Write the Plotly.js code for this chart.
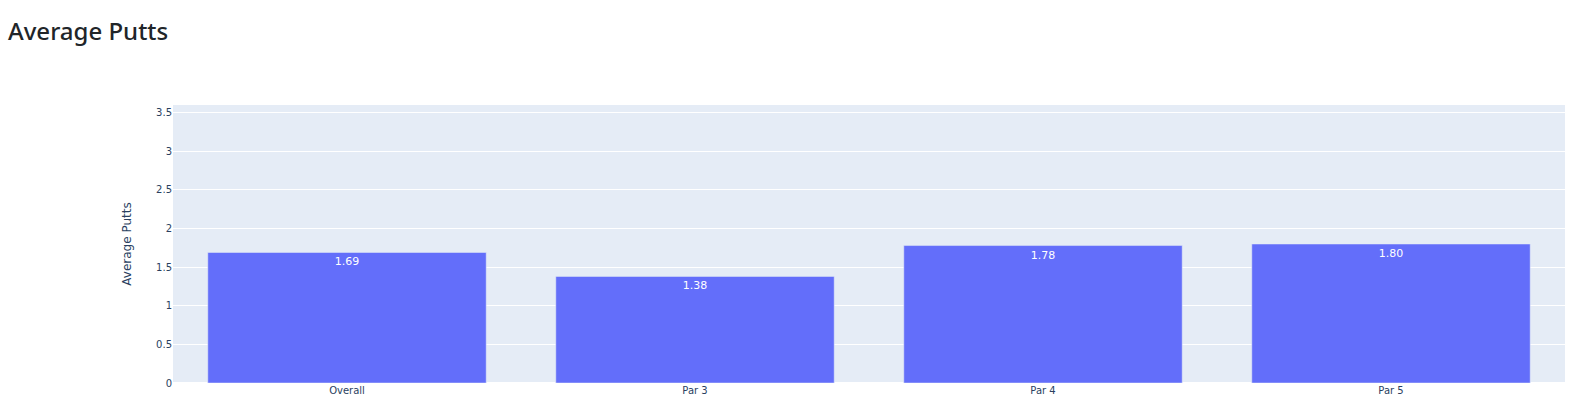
<!DOCTYPE html>
<html>
<head>
<meta charset="utf-8">
<script src="https://cdn.plot.ly/plotly-3.0.1.min.js"></script>
<style>
  html, body { margin: 0; padding: 0; background: #fff; }
  h2 { position: absolute; left: 8px; top: 14px; margin: 0; font-family: "Noto Sans", "Open Sans", sans-serif; font-weight: 500; font-size: 24px; color: #212529; z-index: 2; }
  #chart { position: absolute; left: 0; top: 0; width: 1576px; height: 410px; }
</style>
</head>
<body>
<h2>Average Putts</h2>
<div id="chart"></div>
<script>
const categories = ["Overall", "Par 3", "Par 4", "Par 5"];
const averagePutts = [1.69, 1.38, 1.78, 1.80];
const yTitle = "Average Putts";

const trace = {
  type: "bar",
  x: categories,
  y: averagePutts,
  texttemplate: "%{y:.2f}",
  textposition: "auto",
  textfont: { color: "#ffffff", size: 11 },
  marker: { color: "#636efa", line: { color: "#E5ECF6", width: 0.5 } },
  hoverinfo: "x+y"
};

const layout = {
  width: 1576,
  height: 410,
  margin: { l: 173, r: 11, t: 105, b: 27 },
  paper_bgcolor: "rgba(0,0,0,0)",
  plot_bgcolor: "#E5ECF6",
  font: { family: 'Verdana, "DejaVu Sans", sans-serif', size: 10, color: "#2a3f5f" },
  showlegend: false,
  bargap: 0.2,
  xaxis: {
    type: "category",
    showgrid: false,
    ticks: "",
    tickfont: { size: 10 },
    automargin: false
  },
  yaxis: {
    title: { text: yTitle, font: { size: 12 }, standoff: 21 },
    range: [0, 3.6],
    dtick: 0.5,
    gridcolor: "white",
    zerolinecolor: "white",
    zerolinewidth: 2,
    tickfont: { size: 10 },
    automargin: false
  }
};

Plotly.newPlot("chart", [trace], layout, { displayModeBar: false, responsive: false });
</script>
</body>
</html>
